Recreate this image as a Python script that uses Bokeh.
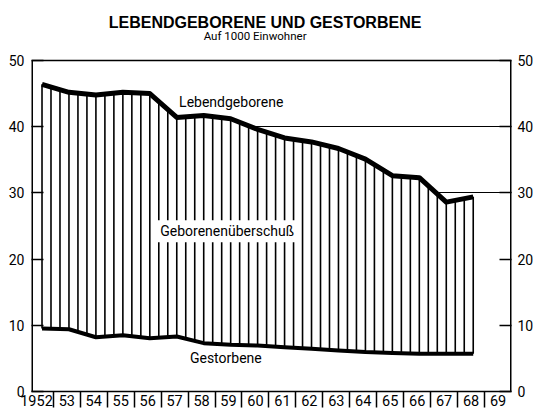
import numpy as np
from bokeh.plotting import figure
from bokeh.models import Range1d, LinearAxis, FixedTicker, Label
from bokeh.embed import file_html
from bokeh.resources import INLINE

# ---- data (per 1000 inhabitants) ----
years = list(range(1952, 1969))
births = [46.4, 45.2, 44.8, 45.2, 45.0, 41.4, 41.7, 41.2, 39.6, 38.3,
          37.7, 36.7, 35.1, 32.6, 32.3, 28.6, 29.4]
deaths = [9.5, 9.4, 8.2, 8.5, 8.05, 8.3, 7.3, 7.05, 6.95, 6.7,
          6.45, 6.2, 5.95, 5.8, 5.7, 5.7, 5.7]
year_labels = ["1952", "53", "54", "55", "56", "57", "58", "59", "60",
               "61", "62", "63", "64", "65", "66", "67", "68", "69"]
y_ticks = [0, 10, 20, 30, 40, 50]
Y_MAX = 50

FONT = "Roboto"

# layout geometry (pixels)
W, H = 536, 415
FRAME_TOP_50 = 60      # page y of value 50
FRAME_BOTTOM = 391     # page y of value 0
BORDER_L, BORDER_R = 31, 22
X0, X1 = 1952.19, 1970.0
px_per_unit = (FRAME_BOTTOM - FRAME_TOP_50) / Y_MAX
Y_TOP = Y_MAX + FRAME_TOP_50 / px_per_unit   # frame reaches the top of canvas
px_per_year = (W - BORDER_L - BORDER_R) / (X1 - X0)

def page_to_x(px):
    return X0 + (px - BORDER_L) / px_per_year

def page_to_y(py):
    return (FRAME_BOTTOM - py) / px_per_unit

xs = [y + 0.58 for y in years]

p = figure(width=W, height=H, x_range=Range1d(X0, X1),
           y_range=Range1d(0, Y_TOP), output_backend="svg", toolbar_location=None,
           min_border_left=BORDER_L, min_border_right=BORDER_R, min_border_top=0,
           min_border_bottom=H - FRAME_BOTTOM)
p.title.visible = False
p.background_fill_color = "white"
p.border_fill_color = "white"
p.outline_line_color = None

# grid only at 30 and 40 (hidden behind the data area)
p.xgrid.visible = False
p.ygrid.ticker = FixedTicker(ticks=[30, 40])
p.ygrid.grid_line_color = "black"
p.ygrid.grid_line_width = 1.2

# x axis: labels centred in each year interval, separators as minor ticks
label_pos = [1952.375] + [y + 0.5 for y in range(1953, 1970)]
sep_pos = list(range(1953, 1970))
xa = p.xaxis[0]
xa.ticker = FixedTicker(ticks=label_pos, minor_ticks=sep_pos)
xa.major_label_overrides = {pos: lab for pos, lab in zip(label_pos, year_labels)}
xa.major_tick_out = 0
xa.major_tick_in = 0
xa.minor_tick_out = 16
xa.minor_tick_in = 0
xa.minor_tick_line_color = "black"
xa.minor_tick_line_width = 1.5
xa.axis_line_width = 1.5
xa.axis_line_color = "black"
xa.major_label_standoff = -13
xa.major_label_text_font = FONT
xa.major_label_text_font_size = "14.5px"
xa.major_label_text_color = "black"

def style_y(ax, standoff):
    ax.ticker = FixedTicker(ticks=y_ticks)
    ax.major_tick_in = 12
    ax.major_tick_out = 0
    ax.minor_tick_in = 0
    ax.minor_tick_out = 0
    ax.major_tick_line_color = "black"
    ax.major_tick_line_width = 1.5
    ax.axis_line_color = None
    ax.major_label_standoff = standoff
    ax.major_label_text_font = FONT
    ax.major_label_text_font_size = "14px"
    ax.major_label_text_color = "black"

style_y(p.yaxis[0], 7)
ra = LinearAxis()
style_y(ra, 6)
p.add_layout(ra, "right")

# data area (white, hides grid), vertical hatching, curves
p.varea(x=xs, y1=deaths, y2=births, fill_color="white")
hx = np.linspace(xs[0], xs[-1], 3 * (len(xs) - 1) + 1)
hy0 = np.interp(hx, xs, deaths)
hy1 = np.interp(hx, xs, births)
p.segment(x0=hx, y0=hy0, x1=hx, y1=hy1, line_color="black", line_width=1.6)
p.line(xs, births, line_color="black", line_width=5, line_join="round")
p.line(xs, deaths, line_color="black", line_width=4, line_join="round")

# chart box: top line at 50, left/right sides from 0 to 50
p.segment(x0=[X0, X1, X0], y0=[0, 0, Y_MAX], x1=[X0, X1, X1], y1=[Y_MAX, Y_MAX, Y_MAX],
          line_color="black", line_width=[3, 3, 1.5])

# in-chart labels
p.add_layout(Label(x=1959.6, y=43.8, text="Lebendgeborene", text_align="center",
                   text_baseline="middle", text_font=FONT, text_font_size="14px",
                   text_color="black"))
p.add_layout(Label(x=1959.45, y=24.2, text="Geborenenüberschuß", text_align="center",
                   text_baseline="middle", text_font=FONT, text_font_size="14px",
                   text_color="black", background_fill_color="white", padding=3))
p.add_layout(Label(x=1959.4, y=5.0, text="Gestorbene", text_align="center",
                   text_baseline="middle", text_font=FONT, text_font_size="14px",
                   text_color="black"))

# titles
p.add_layout(Label(x=page_to_x(266), y=page_to_y(22), text="LEBENDGEBORENE UND GESTORBENE",
                   text_align="center", text_baseline="alphabetic",
                   text_font="Liberation Sans", text_font_size="16px",
                   text_font_style="bold", text_color="black"))
p.add_layout(Label(x=page_to_x(256), y=page_to_y(35), text="Auf 1000 Einwohner",
                   text_align="center", text_baseline="alphabetic",
                   text_font=FONT, text_font_size="11.5px", text_color="black"))

open("out.html", "w").write(file_html(p, INLINE))
